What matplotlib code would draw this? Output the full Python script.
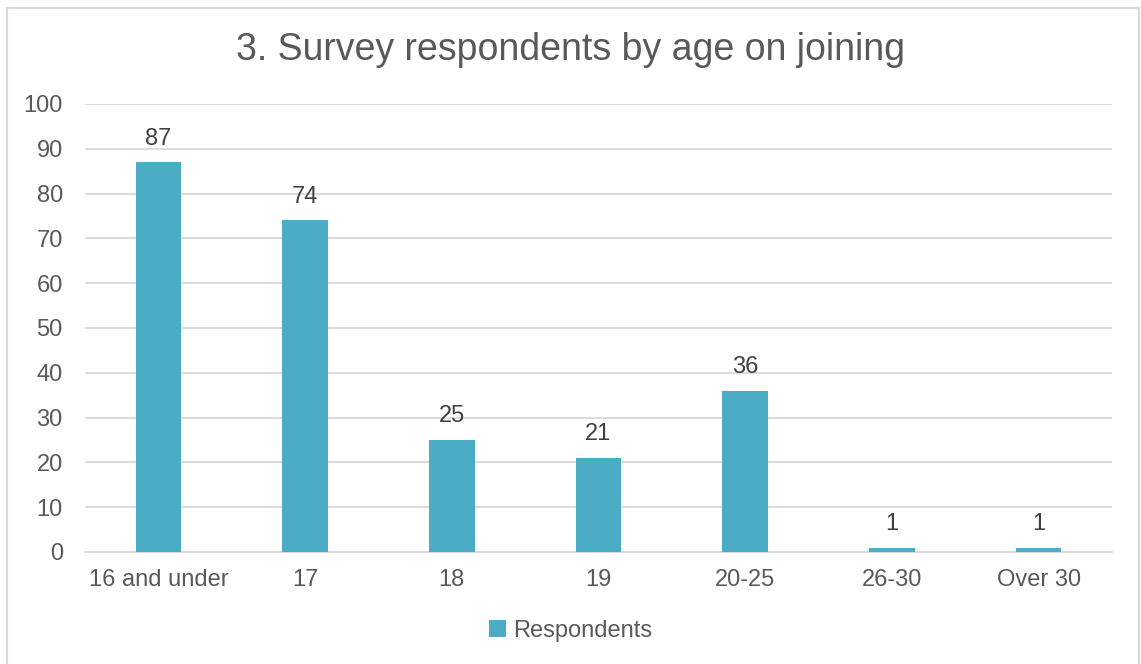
import numpy as np
import matplotlib.pyplot as plt
from matplotlib.patches import Rectangle

# 数据
categories = ['16 and under', '17', '18', '19', '20-25', '26-30', 'Over 30']
respondents = [87, 74, 25, 21, 36, 1, 1]
y_ticks = list(range(0, 101, 10))

plt.rcParams['font.family'] = ['Liberation Sans', 'DejaVu Sans']
text_color = '#595959'
bar_color = '#4BACC6'
grid_color = '#D9D9D9'

fig = plt.figure(figsize=(11.41, 6.64), dpi=100)
ax = fig.add_axes([85 / 1141, 1 - 552 / 664, (1112 - 85) / 1141, (552 - 104) / 664])

x = np.arange(len(categories))
bars = ax.bar(x, respondents, width=0.31, color=bar_color, label='Respondents', zorder=3)

# 数据标签
for xi, v in zip(x, respondents):
    ax.annotate(str(v), (xi, v), xytext=(0, 9), textcoords='offset points',
                ha='center', va='bottom', fontsize=17, color='#404040')

ax.set_xlim(-0.5, len(categories) - 0.5)
ax.set_ylim(0, 100)
ax.set_yticks(y_ticks)
ax.set_xticks(x)
ax.set_xticklabels(categories)
ax.tick_params(axis='y', length=0, pad=16, labelsize=17, labelcolor=text_color)
ax.tick_params(axis='x', length=0, pad=12, labelsize=17, labelcolor=text_color)
ax.yaxis.grid(True, color=grid_color, linewidth=1.3, zorder=0)
for s in ['left', 'right', 'top']:
    ax.spines[s].set_visible(False)
ax.spines['bottom'].set_color(grid_color)
ax.spines['bottom'].set_linewidth(1.3)

# 标题
fig.text(0.5, 1 - 50 / 664, '3. Survey respondents by age on joining', ha='center', va='center',
         fontsize=27, color=text_color)

# 图例
fig.legend(handles=[bars], loc='center', bbox_to_anchor=(0.5, 1 - 631 / 664), frameon=False,
           fontsize=17, labelcolor=text_color, handlelength=0.7, handleheight=0.7,
           handletextpad=0.3)

# 外框
fig.patches.append(Rectangle((7 / 1141, -0.02), (1139 - 7) / 1141, 1.02 - 8 / 664,
                             transform=fig.transFigure, fill=False, edgecolor=grid_color,
                             linewidth=1.5))

plt.savefig('out.png', dpi=100)
